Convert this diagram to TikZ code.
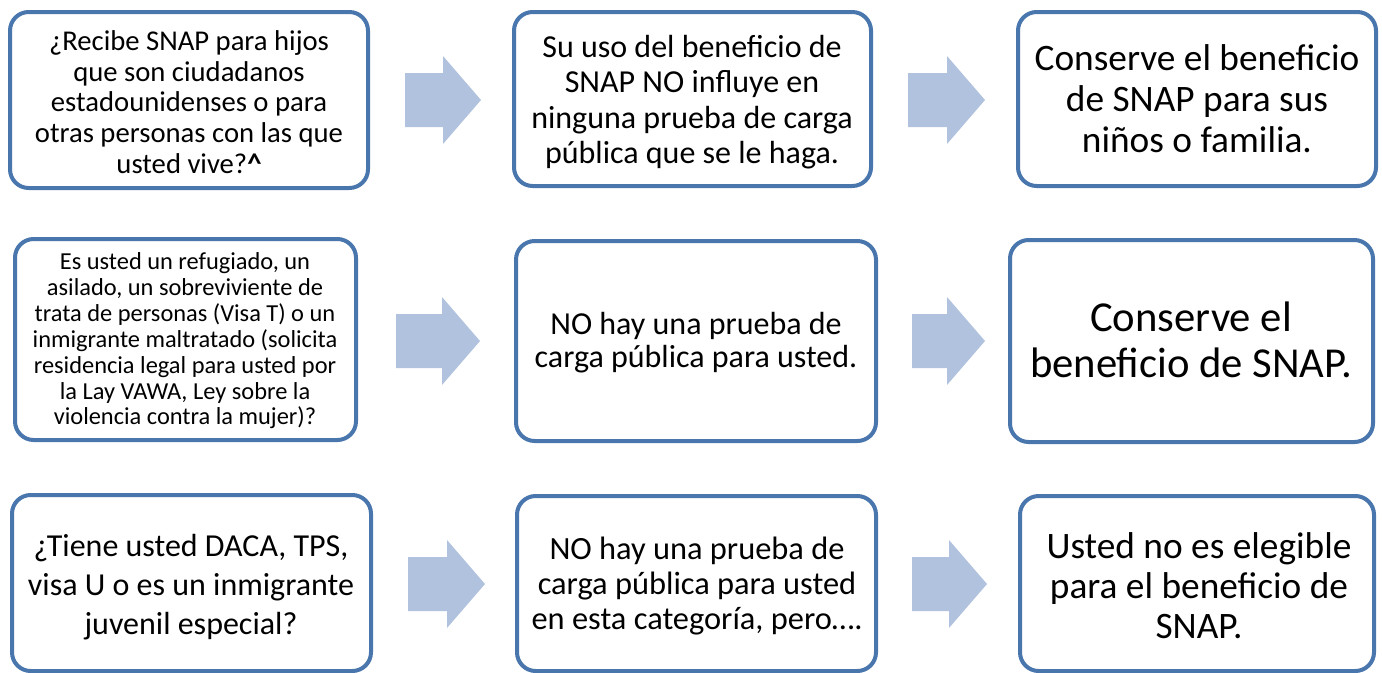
\documentclass[tikz,border=0pt]{standalone}
\usepackage{fontspec}
\setmainfont{Carlito}
\definecolor{boxblue}{HTML}{4A76AE}
\definecolor{arrowblue}{HTML}{B0C2DE}
\tikzset{
  x=0.75pt, y=-0.75pt,
  flowbox/.style={draw=boxblue, line width=3pt, fill=white, rounded corners=14pt},
  boxtext/.style={align=center, text=black, inner sep=0pt},
  blockarrow/.style={fill=arrowblue, draw=none}
}
\newcommand{\fs}[2]{\fontsize{#1}{#2}\selectfont}
\newcommand{\barrow}[3]{% x0, x1, yc
  \fill[blockarrow] (#1,#3-27) -- (#2-38,#3-27) -- (#2-38,#3-44) -- (#2,#3) -- (#2-38,#3+44) -- (#2-38,#3+27) -- (#1,#3+27) -- cycle;}
\begin{document}
\begin{tikzpicture}
\useasboundingbox (0,0) rectangle (1382,672);
% row 1
\draw[flowbox] (10,12) rectangle (368,188);
\node[boxtext, font=\fs{21.5pt}{23pt}] (a1) at (189,102) {¿Recibe SNAP para hijos\\que son ciudadanos\\estadounidenses o para\\otras personas con las que\\usted vive?\textbf{\^{}}};
\barrow{405}{481}{100}
\draw[flowbox] (514,12) rectangle (871,186);
\node[boxtext, font=\fs{24pt}{26.6pt}] (b1) at (692,102) {Su uso del beneficio de\\SNAP NO influye en\\ninguna prueba de carga\\pública que se le haga.};
\barrow{908}{985}{100}
\draw[flowbox] (1018,12) rectangle (1376,186);
\node[boxtext, font=\fs{28pt}{30.75pt}] (c1) at (1197,99) {Conserve el beneficio\\de SNAP para sus\\niños o familia.};
% row 2
\draw[flowbox] (15,239) rectangle (356,440);
\node[boxtext, font=\fs{18.3pt}{19.4pt}] (a2) at (185,341) {Es usted un refugiado, un\\asilado, un sobreviviente de\\trata de personas (Visa T) o un\\inmigrante maltratado (solicita\\residencia legal para usted por\\la Lay VAWA, Ley sobre la\\violencia contra la mujer)?};
\barrow{396}{480}{341}
\draw[flowbox] (516,241) rectangle (876,441);
\node[boxtext, font=\fs{24pt}{24.75pt}] (b2) at (696,343) {NO hay una prueba de\\carga pública para usted.};
\barrow{912}{985}{341}
\draw[flowbox] (1010,240) rectangle (1373,442);
\node[boxtext, font=\fs{32pt}{34.5pt}] (c2) at (1191,340) {Conserve el\\beneficio de SNAP.};
% row 3
\draw[flowbox] (12,495) rectangle (371,671);
\node[boxtext, font=\fs{24pt}{29pt}] (a3) at (191,587) {¿Tiene usted DACA, TPS,\\visa U o es un inmigrante\\juvenil especial?};
\barrow{408}{485}{584}
\draw[flowbox] (517,496) rectangle (876,671);
\node[boxtext, font=\fs{24.3pt}{26pt}] (b3) at (697,586) {NO hay una prueba de\\carga pública para usted\\en esta categoría, pero….};
\barrow{912}{987}{584}
\draw[flowbox] (1020,496) rectangle (1374,671);
\node[boxtext, font=\fs{28pt}{30pt}] (c3) at (1199,586) {Usted no es elegible\\para el beneficio de\\SNAP.};
\end{tikzpicture}
\end{document}
